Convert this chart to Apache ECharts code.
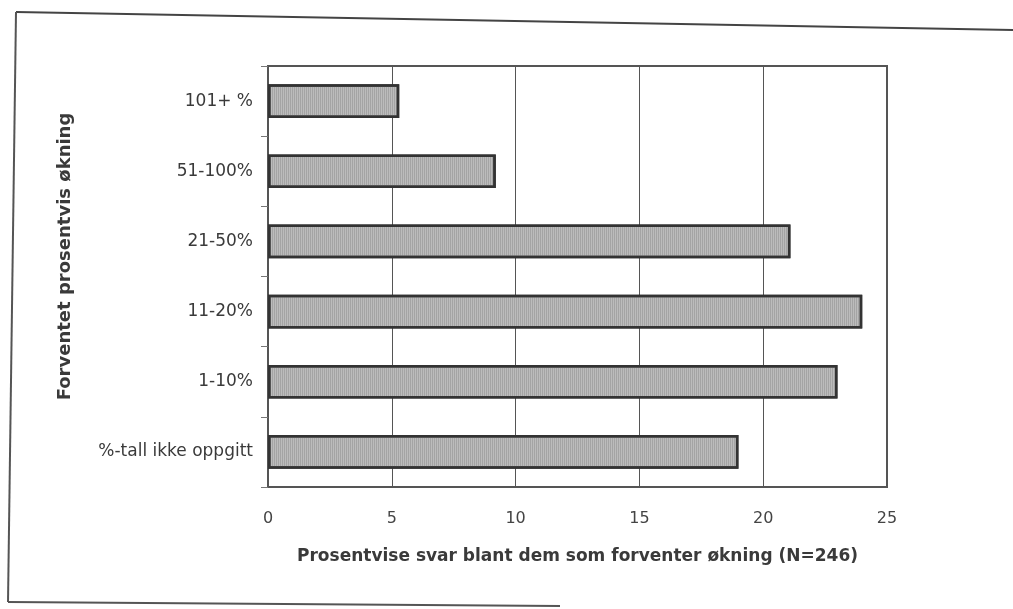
<!DOCTYPE html>
<html>
<head>
<meta charset="utf-8">
<script src="https://cdn.jsdelivr.net/npm/echarts@6/dist/echarts.min.js"></script>
<style>html,body{margin:0;padding:0;background:#fff;}#c{width:1013px;height:609px;}</style>
</head>
<body>
<div id="c"></div>
<script>
const categories = ["%-tall ikke oppgitt", "1-10%", "11-20%", "21-50%", "51-100%", "101+ %"];
const values = [19.0, 23.0, 24.0, 21.1, 9.2, 5.3];
const xTicks = [0, 5, 10, 15, 20, 25];
const xTitle = "Prosentvise svar blant dem som forventer økning (N=246)";
const yTitle = "Forventet prosentvis økning";

const FONT = 'DejaVu Sans, Liberation Sans, Arial';
const chart = echarts.init(document.getElementById('c'));
chart.setOption({
  animation: false,
  backgroundColor: '#fff',
  grid: { left: 268, right: 126, top: 66, bottom: 122, show: true, borderColor: '#555', borderWidth: 2, backgroundColor: 'transparent' },
  xAxis: {
    type: 'value', min: xTicks[0], max: xTicks[xTicks.length - 1], interval: 5,
    name: xTitle, nameLocation: 'middle', nameGap: 61,
    nameTextStyle: { fontFamily: FONT, fontWeight: 'bold', fontSize: 17, color: '#3a3a3a' },
    axisLine: { show: true, lineStyle: { color: '#555', width: 2 } },
    axisTick: { show: true, length: 5, inside: true, lineStyle: { color: '#555' } },
    axisLabel: { margin: 24, fontFamily: FONT, fontSize: 16, color: '#444' },
    splitLine: { show: true, lineStyle: { color: '#555', width: 1 } }
  },
  yAxis: {
    type: 'category', data: categories,
    name: yTitle, nameLocation: 'middle', nameGap: 194, nameRotate: 90,
    nameTextStyle: { fontFamily: FONT, fontWeight: 'bold', fontSize: 18, color: '#3a3a3a', padding: [0, 0, 0, 40] },
    axisLine: { show: true, lineStyle: { color: '#555', width: 2 } },
    axisTick: { show: true, length: 7, lineStyle: { color: '#777' } },
    axisLabel: { margin: 15, fontFamily: FONT, fontSize: 17, color: '#3a3a3a' },
    splitLine: { show: false }
  },
  series: [{
    type: 'bar', data: values, barWidth: '48%',
    itemStyle: {
      color: '#bcbcbc', borderColor: '#333', borderWidth: 2.5,
      decal: { symbol: 'rect', dashArrayX: [[1, 1]], dashArrayY: [1, 0], rotation: 0, color: 'rgba(120,120,120,0.35)', symbolSize: 1 }
    }
  }],
  graphic: [
    { type: 'polyline', shape: { points: [[16, 12], [1013, 30]] }, style: { stroke: '#444', lineWidth: 2, fill: null } },
    { type: 'polyline', shape: { points: [[16, 12], [8, 602]] }, style: { stroke: '#555', lineWidth: 2, fill: null } },
    { type: 'polyline', shape: { points: [[8, 602], [560, 606]] }, style: { stroke: '#555', lineWidth: 2, fill: null } }
  ]
});
</script>
</body>
</html>
